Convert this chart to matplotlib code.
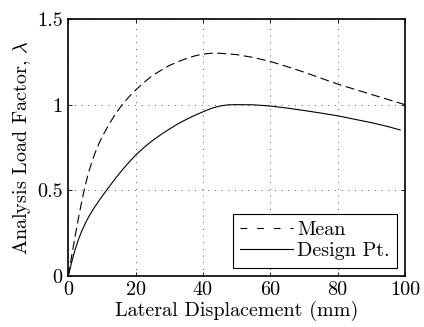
"""Load factor vs lateral displacement for mean and design-point models."""

import numpy as np
import matplotlib
matplotlib.use("Agg")
import matplotlib.pyplot as plt

# lateral displacement (mm) and analysis load factor
mean_disp = [0, 1, 2, 3, 4, 5, 6, 7, 8, 9, 10, 12, 14, 16, 18, 20, 22.5,
             25, 27.5, 30, 32.5, 35, 37.5, 40, 42.5, 45, 50, 55, 60, 65,
             70, 75, 80, 85, 90, 95, 100]
mean_lf = [0, 0.115, 0.228, 0.335, 0.435, 0.525, 0.602, 0.665, 0.72, 0.768,
           0.81, 0.882, 0.945, 1.0, 1.045, 1.085, 1.13, 1.17, 1.20, 1.228,
           1.25, 1.268, 1.284, 1.295, 1.30, 1.30, 1.292, 1.275, 1.252, 1.222,
           1.19, 1.155, 1.12, 1.09, 1.06, 1.03, 1.00]

design_disp = [0, 1, 2, 3, 4, 5, 6, 7, 8, 10, 12, 14, 16, 18, 20, 22.5, 25,
               27.5, 30, 32.5, 35, 37.5, 40, 42.5, 45, 47.5, 50, 55, 60, 65,
               70, 75, 80, 85, 90, 95, 98.6]
design_lf = [0, 0.08, 0.152, 0.212, 0.262, 0.305, 0.343, 0.376, 0.407, 0.464,
             0.517, 0.569, 0.618, 0.663, 0.705, 0.75, 0.79, 0.825, 0.857,
             0.887, 0.913, 0.937, 0.958, 0.978, 0.992, 0.999, 1.0, 0.999,
             0.992, 0.98, 0.966, 0.951, 0.935, 0.915, 0.895, 0.872, 0.852]

xticks = [0, 20, 40, 60, 80, 100]
yticks = [0, 0.5, 1, 1.5]
ytick_labels = ["0", "0.5", "1", "1.5"]

plt.rcParams["font.family"] = "serif"
plt.rcParams["font.serif"] = ["cmr10"]
plt.rcParams["mathtext.fontset"] = "cm"
plt.rcParams["axes.formatter.use_mathtext"] = True

fs = 14.5

fig = plt.figure(figsize=(4.24, 3.27), dpi=100)
ax = fig.add_axes([0.161, 0.156, 0.794, 0.786])

ax.plot(mean_disp, mean_lf, color="black", lw=0.8, dashes=(8, 4), label="Mean")
ax.plot(design_disp, design_lf, color="black", lw=0.8, label="Design Pt.")

ax.set_xlim(0, 100)
ax.set_ylim(0, 1.5)
ax.set_xticks(xticks)
ax.set_xticklabels([str(t) for t in xticks])
ax.set_yticks(yticks)
ax.set_yticklabels(ytick_labels)
ax.tick_params(direction="in", length=3, width=0.6, top=True, right=True,
               labelsize=fs, pad=4)
for s in ax.spines.values():
    s.set_linewidth(1.2)
ax.grid(True, color="#222222", lw=0.6, linestyle=(0, (1, 7)))

ax.set_xlabel("Lateral Displacement (mm)", fontsize=fs, labelpad=1)
ax.set_ylabel(r"Analysis Load Factor, $\lambda$", fontsize=fs, labelpad=3)

leg = ax.legend(loc="lower right", bbox_to_anchor=(0.976, 0.033),
                borderaxespad=0, fontsize=fs, fancybox=False, framealpha=1,
                edgecolor="black", handlelength=2.65, handletextpad=0.2,
                borderpad=0.35, labelspacing=0.15)
leg.get_frame().set_linewidth(0.8)
leg.get_lines()[0].set_dashes((6, 9))

fig.savefig("out.png", dpi=100)
